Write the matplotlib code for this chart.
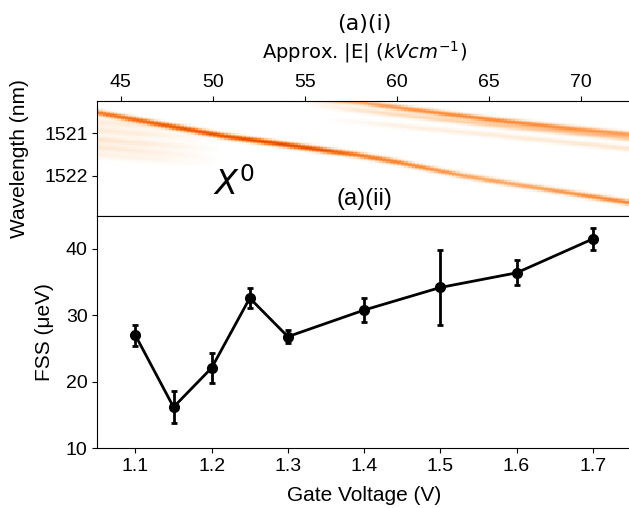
import numpy as np
import matplotlib
matplotlib.use("Agg")
import matplotlib.pyplot as plt
from matplotlib.colors import LinearSegmentedColormap

plt.rcParams['font.family'] = ['Liberation Sans', 'DejaVu Sans']
plt.rcParams['font.size'] = 14

# ---------------- bottom panel data ----------------
gate_voltage = [1.1, 1.15, 1.2, 1.25, 1.3, 1.4, 1.5, 1.6, 1.7]
fss = [27.0, 16.2, 22.1, 32.6, 26.8, 30.8, 34.2, 36.4, 41.5]
fss_err = [1.6, 2.35, 2.2, 1.5, 1.0, 1.8, 5.6, 1.9, 1.7]
gv_ticks = [1.1, 1.2, 1.3, 1.4, 1.5, 1.6, 1.7]
fss_ticks = [10, 20, 30, 40]

# ---------------- top panel (spectral map) data ----------------
field_ticks = [45, 50, 55, 60, 65, 70]
wl_ticks = [1521, 1522]
field_range = [43.72, 72.73]
wl_range = [1520.23, 1522.95]

# X0 line: centre wavelength and intensity vs field
x0_field = [43.7, 47.0, 50.6, 54.2, 57.9, 60.0, 63.5, 66.0, 69.0, 72.7]
x0_wl = [1520.50, 1520.77, 1521.06, 1521.28, 1521.51, 1521.67, 1521.99, 1522.17, 1522.38, 1522.64]
x0_amp_field = [43.7, 47.0, 50.0, 54.0, 56.0, 58.0, 61.0, 64.0, 67.0, 70.0, 72.7]
x0_amp = [0.62, 0.75, 0.85, 0.90, 0.85, 0.62, 0.52, 0.40, 0.40, 0.48, 0.55]

# upper line
up_field = [53.0, 58.07, 61.0, 65.3, 69.0, 72.7]
up_wl = [1520.12, 1520.27, 1520.44, 1520.68, 1520.86, 1521.02]
up_amp_field = [53.0, 56.0, 59.0, 62.0, 66.0, 70.0, 72.7]
up_amp = [0.05, 0.22, 0.42, 0.50, 0.52, 0.45, 0.40]

# companion just below upper line
up2_field = [55.0, 60.0, 65.0, 72.7]
up2_wl = [1520.30, 1520.55, 1520.79, 1521.12]
up2_amp_field = [55.0, 59.0, 64.0, 72.7]
up2_amp = [0.0, 0.16, 0.22, 0.25]

# faint lower-upper line
f3_field = [56.0, 63.5, 72.7]
f3_wl = [1520.65, 1520.96, 1521.36]
f3_amp_field = [56.0, 60.0, 66.0, 72.7]
f3_amp = [0.0, 0.07, 0.10, 0.12]

# faint lines at low field
left_start_wl = [1520.73, 1520.92, 1521.14, 1521.32, 1521.50]
left_end_wl = [1520.95, 1521.15, 1521.38, 1521.58, 1521.72]
left_amp = [0.10, 0.11, 0.13, 0.11, 0.07]
left_amp_field = [43.7, 46.0, 48.5, 50.5]
left_fade = [1.0, 0.8, 0.35, 0.0]
left_field = [43.7, 50.5]

# ---------------- build the map ----------------
E = np.arange(field_range[0], field_range[1] + 0.2, 0.2)
W = np.arange(wl_range[0], wl_range[1] + 0.03, 0.03)
img = np.zeros((len(W), len(E)))
sig = 0.045


def add_line(fx, fw, ax_, aa, s=sig):
    c = np.interp(E, fx, fw)
    a = np.interp(E, ax_, aa)
    return a[None, :] * np.exp(-(W[:, None] - c[None, :]) ** 2 / (2 * s ** 2))


img += add_line(x0_field, x0_wl, x0_amp_field, x0_amp)
img += add_line(up_field, up_wl, up_amp_field, up_amp)
img += add_line(up2_field, up2_wl, up2_amp_field, up2_amp)
img += add_line(f3_field, f3_wl, f3_amp_field, f3_amp)
for sw, ew, a in zip(left_start_wl, left_end_wl, left_amp):
    img += add_line(left_field, [sw, ew], left_amp_field,
                    [a * f for f in left_fade], s=0.06)

cmap = LinearSegmentedColormap.from_list(
    'white_oranges',
    [(0.0, 'white'), (0.2, '#fdd9b4'), (0.5, '#fd9243'),
     (0.8, '#f0650f'), (1.0, '#dc3e04')])

fig = plt.figure(figsize=(6.29, 5.08), dpi=100)
L = 97.3 / 629
R = 1.003
ax_top = fig.add_axes([L, 1 - 215.7 / 508, R - L, 115.0 / 508])
ax_bot = fig.add_axes([L, 1 - 448.3 / 508, R - L, 232.6 / 508])

ax_top.imshow(img, cmap=cmap, vmin=0, vmax=0.95, aspect='auto',
              interpolation='nearest', origin='lower',
              extent=[E[0] - 0.1, E[-1] + 0.1, W[0] - 0.015, W[-1] + 0.015])
ax_top.set_xlim(field_range)
ax_top.set_ylim(wl_range[1], wl_range[0])
ax_top.set_xticks(field_ticks)
ax_top.set_yticks(wl_ticks)
ax_top.xaxis.tick_top()
ax_top.xaxis.set_label_position('top')
ax_top.set_xlabel(r'Approx. |E| ($kVcm^{-1}$)', family='DejaVu Sans', fontsize=14, labelpad=11)
ax_top.set_title('(a)(i)', family='DejaVu Sans', fontsize=16, pad=6.5)
ax_top.set_ylabel('Wavelength (nm)', fontsize=15, labelpad=10.5)
ax_top.text(50.0, 1522.46, r'$X^0$', fontsize=24, ha='left', va='baseline')

ax_bot.errorbar(gate_voltage, fss, yerr=fss_err, color='black', lw=2,
                marker='o', markersize=7, capsize=2.5, capthick=2, elinewidth=2)
ax_bot.set_xlim(1.05, 1.75)
ax_bot.set_ylim(10, 45)
ax_bot.set_xticks(gv_ticks)
ax_bot.set_yticks(fss_ticks)
ax_bot.set_xlabel('Gate Voltage (V)', fontsize=15, labelpad=8)
ax_bot.set_ylabel('FSS (μeV)', fontsize=15, labelpad=8.5)
ax_bot.set_title('(a)(ii)', fontsize=17, pad=8)

fig.savefig('out.png', dpi=100)
